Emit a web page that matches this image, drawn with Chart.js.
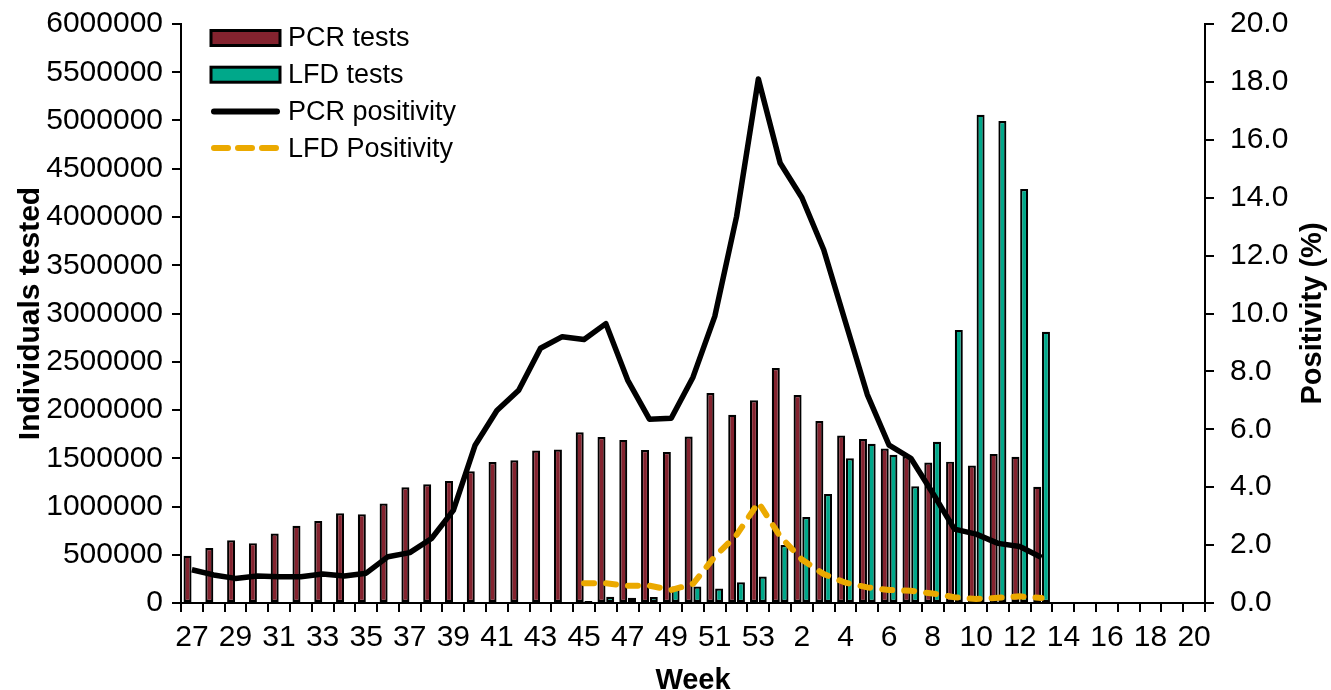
<!DOCTYPE html>
<html>
<head>
<meta charset="utf-8">
<script src="https://cdn.jsdelivr.net/npm/chart.js@4.4.1/dist/chart.umd.min.js"></script>
<style>
  body { margin: 0; background: #fff; }
</style>
</head>
<body>
<canvas id="chart" width="1331" height="690"></canvas>
<script>
const weeks = ['27', '28', '29', '30', '31', '32', '33', '34', '35', '36', '37', '38', '39', '40',
  '41', '42', '43', '44', '45', '46', '47', '48', '49', '50', '51', '52', '53',
  '1', '2', '3', '4', '5', '6', '7', '8', '9', '10', '11', '12', '13', '14', '15', '16', '17', '18', '19', '20'];

const pcrTests = [490000, 570000, 650000, 620000, 720000, 800000, 850000, 930000, 920000, 1030000,
  1200000, 1230000, 1265000, 1365000, 1460000, 1480000, 1580000, 1590000, 1770000, 1720000,
  1690000, 1585000, 1565000, 1725000, 2175000, 1950000, 2100000,
  2435000, 2155000, 1885000, 1735000, 1700000, 1600000, 1520000, 1455000, 1465000, 1425000,
  1545000, 1515000, 1205000, null, null, null, null, null, null, null];

const lfdTests = [null, null, null, null, null, null, null, null, null, null, null, null, null, null,
  null, null, null, null, 20000, 65000, 55000, 62000, 170000, 170000, 150000, 215000, 275000,
  600000, 890000, 1130000, 1500000, 1650000, 1535000, 1210000, 1670000, 2830000, 5060000,
  4995000, 4290000, 2810000, null, null, null, null, null, null, null];

const pcrPositivity = [1.15, 0.97, 0.85, 0.93, 0.91, 0.91, 1.0, 0.93, 1.03, 1.6, 1.74, 2.23, 3.2, 5.45,
  6.65, 7.35, 8.8, 9.2, 9.1, 9.65, 7.7, 6.35, 6.38, 7.8, 9.9, 13.35, 18.1,
  15.2, 14.0, 12.2, 9.7, 7.2, 5.45, 5.0, 3.8, 2.55, 2.38, 2.06, 1.95, 1.57,
  null, null, null, null, null, null, null];

const lfdPositivity = [null, null, null, null, null, null, null, null, null, null, null, null, null, null,
  null, null, null, null, 0.68, 0.68, 0.6, 0.6, 0.45, 0.66, 1.6, 2.35, 3.47,
  2.3, 1.5, 1.0, 0.7, 0.54, 0.45, 0.42, 0.33, 0.2, 0.14, 0.18, 0.23, 0.17,
  null, null, null, null, null, null, null];

const FONT = '"Liberation Sans", Arial, sans-serif';
Chart.defaults.font.family = FONT;
Chart.defaults.color = '#000';

const maroon = '#84232f';
const teal = '#00a88a';
const gold = '#eba900';

// legend drawn inside the plot, top left, like the original
const insideLegend = {
  id: 'insideLegend',
  afterDraw(chart) {
    const { ctx, chartArea } = chart;
    const x = chartArea.left + 30;
    const w = 69;
    ctx.save();
    ctx.font = '27px ' + FONT;
    ctx.textBaseline = 'middle';
    chart.data.datasets.forEach((ds, i) => {
      const y = chartArea.top + 14 + i * 36.7;
      if (ds.type === 'bar') {
        ctx.fillStyle = ds.backgroundColor;
        ctx.fillRect(x, y - 7.5, w, 15);
        ctx.lineWidth = 3;
        ctx.strokeStyle = '#000';
        ctx.strokeRect(x, y - 7.5, w, 15);
      } else {
        ctx.beginPath();
        ctx.lineWidth = 6;
        ctx.lineCap = 'round';
        ctx.strokeStyle = ds.borderColor;
        ctx.setLineDash(ds.borderDash ? [14, 10] : []);
        ctx.moveTo(x + 3, y);
        ctx.lineTo(x + w - 3, y);
        ctx.stroke();
        ctx.setLineDash([]);
      }
      ctx.fillStyle = '#000';
      ctx.fillText(ds.label, x + w + 8, y + 1);
    });

    // right axis title reads bottom-to-top in the original
    const right = chart.scales.y1;
    ctx.font = 'bold 29px ' + FONT;
    ctx.textAlign = 'center';
    ctx.translate(right.right - 18, (chartArea.top + chartArea.bottom) / 2);
    ctx.rotate(-Math.PI / 2);
    ctx.fillText('Positivity (%)', 0, 0);
    ctx.restore();
  }
};

function fixWidth(w) {
  return s => {
    s.width = w;
    s.paddingTop = 0;
    s.paddingBottom = 0;
  };
}

new Chart(document.getElementById('chart'), {
  data: {
    labels: weeks,
    datasets: [
      {
        type: 'bar', label: 'PCR tests', data: pcrTests, yAxisID: 'y',
        backgroundColor: maroon, borderColor: '#000', borderWidth: 2.2, borderSkipped: false,
        categoryPercentage: 0.8, barPercentage: 0.92, order: 2
      },
      {
        type: 'bar', label: 'LFD tests', data: lfdTests, yAxisID: 'y',
        backgroundColor: teal, borderColor: '#000', borderWidth: 2.2, borderSkipped: false,
        categoryPercentage: 0.8, barPercentage: 0.92, order: 2
      },
      {
        type: 'line', label: 'PCR positivity', data: pcrPositivity, yAxisID: 'y1',
        borderColor: '#000', borderWidth: 5.5, pointRadius: 0, tension: 0,
        borderJoinStyle: 'round', order: 1
      },
      {
        type: 'line', label: 'LFD Positivity', data: lfdPositivity, yAxisID: 'y1',
        borderColor: gold, borderWidth: 6, borderDash: [10, 12], borderCapStyle: 'round',
        pointRadius: 0, tension: 0, order: 1
      }
    ]
  },
  options: {
    responsive: false,
    animation: false,
    devicePixelRatio: 1,
    layout: { padding: { top: 24, left: 0, right: 0, bottom: 0 } },
    plugins: { legend: { display: false }, tooltip: { enabled: false } },
    scales: {
      x: {
        offset: true,
        grid: { drawOnChartArea: false, drawTicks: true, tickLength: 9, color: '#000', lineWidth: 2, offset: true },
        border: { color: '#000', width: 2 },
        ticks: {
          autoSkip: false, maxRotation: 0, minRotation: 0, padding: 8,
          font: { size: 30 },
          callback(v, i) { return i % 2 === 0 ? this.getLabelForValue(v) : ''; }
        },
        title: { display: true, text: 'Week', font: { size: 29, weight: 'bold' }, padding: { top: 0, bottom: -8 } },
        afterFit(s) { s.height = 87; }
      },
      y: {
        position: 'left',
        min: 0, max: 6000000,
        grid: { drawOnChartArea: false, tickLength: 9, color: '#000', lineWidth: 2 },
        border: { color: '#000', width: 2 },
        ticks: { stepSize: 500000, padding: 9, font: { size: 30 }, callback: v => String(v) },
        title: { display: true, text: 'Individuals tested', font: { size: 30, weight: 'bold' }, padding: { top: 13, bottom: 0 } },
        afterFit: fixWidth(181)
      },
      y1: {
        position: 'right',
        min: 0, max: 20,
        grid: { drawOnChartArea: false, tickLength: 9, color: '#000', lineWidth: 2 },
        border: { color: '#000', width: 2 },
        ticks: { stepSize: 2, padding: 16, font: { size: 30 }, callback: v => v.toFixed(1) },
        afterFit: fixWidth(126)
      }
    }
  },
  plugins: [insideLegend]
});
</script>
</body>
</html>
